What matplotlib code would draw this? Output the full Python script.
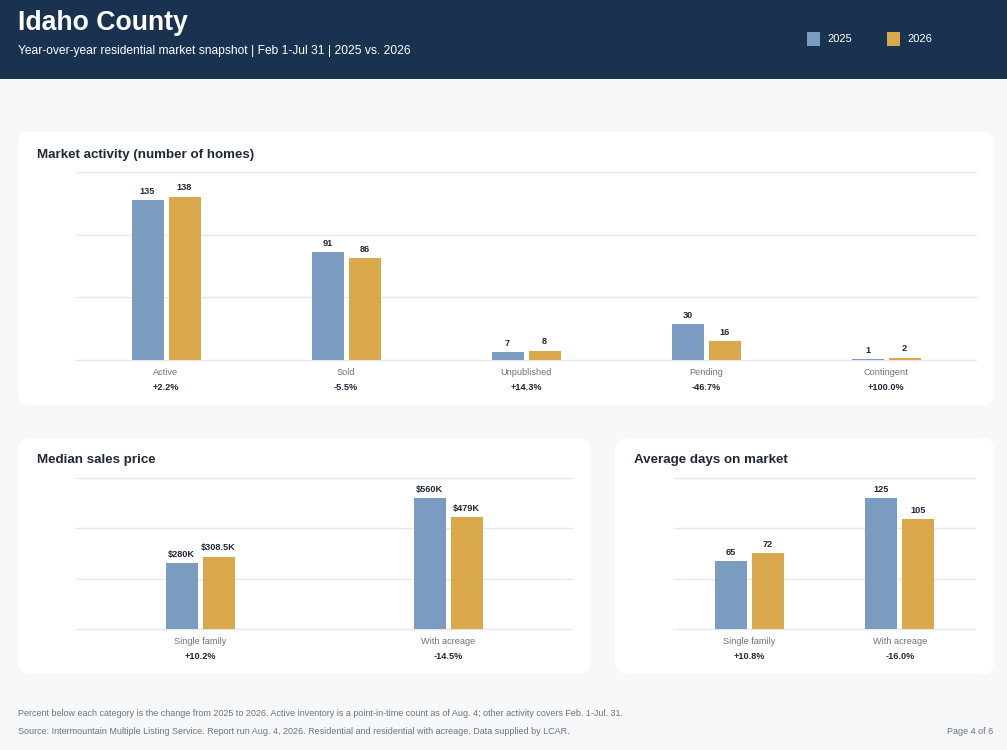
import numpy as np
import matplotlib
matplotlib.use("Agg")
import matplotlib.pyplot as plt
from matplotlib.patches import FancyBboxPatch, Rectangle

plt.rcParams['font.family'] = ['Liberation Sans', 'DejaVu Sans']

# Data
activity_cats = ['Active', 'Sold', 'Unpublished', 'Pending', 'Contingent']
activity_2025 = [135, 91, 7, 30, 1]
activity_2026 = [138, 86, 8, 16, 2]

price_cats = ['Single family', 'With acreage']
price_2025 = [280, 560]      # $K
price_2026 = [308.5, 479]    # $K

dom_cats = ['Single family', 'With acreage']
dom_2025 = [65, 125]
dom_2026 = [72, 105]

BLUE = '#7a9cc1'
GOLD = '#d8a84a'
NAVY = '#19324f'
DARK = '#1f2937'
GRAY = '#6b7280'
GRID = '#e5e7eb'

W, H = 1007, 750
fig = plt.figure(figsize=(W / 100, H / 100), dpi=100)
fig.patch.set_facecolor('#f7f8fa')

# background axes in pixel coordinates
bg = fig.add_axes([0, 0, 1, 1])
bg.set_xlim(0, W)
bg.set_ylim(H, 0)
bg.axis('off')
bg.add_patch(Rectangle((0, 0), W, 79, color=NAVY, lw=0))
for (x0, y0, x1, y1) in [(18, 132, 994, 405), (18, 438, 591, 674), (615, 438, 994, 674)]:
    bg.add_patch(FancyBboxPatch((x0, y0), x1 - x0, y1 - y0,
                                boxstyle='round,pad=0,rounding_size=12',
                                fc='white', ec='none'))

bg.text(18, 23, 'Idaho County', color='white', fontsize=19.2, fontweight='bold', va='center')
bg.text(18, 51, 'Year-over-year residential market snapshot | Feb 1-Jul 31 | 2025 vs. 2026',
        color='white', fontsize=8.65, va='center')
bg.add_patch(Rectangle((807, 32), 13, 14, color=BLUE, lw=0))
bg.text(827, 39, '2025', color='white', fontsize=8, va='center')
bg.add_patch(Rectangle((887, 32), 13, 14, color=GOLD, lw=0))
bg.text(907, 39, '2026', color='white', fontsize=8, va='center')

bg.text(37, 155, 'Market activity (number of homes)', color=DARK, fontsize=9.6, fontweight='bold', va='center')
bg.text(37, 460, 'Median sales price', color=DARK, fontsize=9.6, fontweight='bold', va='center')
bg.text(634, 460, 'Average days on market', color=DARK, fontsize=9.6, fontweight='bold', va='center')

bg.text(18, 713, 'Percent below each category is the change from 2025 to 2026. Active inventory is a '
        'point-in-time count as of Aug. 4; other activity covers Feb. 1-Jul. 31.',
        color=GRAY, fontsize=6.45, va='center')
bg.text(18, 731, 'Source: Intermountain Multiple Listing Service. Report run Aug. 4, 2026. '
        'Residential and residential with acreage. Data supplied by LCAR.',
        color=GRAY, fontsize=6.45, va='center')
bg.text(993, 731, 'Page 4 of 6', color=GRAY, fontsize=6.45, va='center', ha='right')


def px_axes(x0, y0, x1, y1):
    return fig.add_axes([x0 / W, 1 - y1 / H, (x1 - x0) / W, (y1 - y0) / H])


def bar_panel(box, cats, v25, v26, fmt):
    ax = px_axes(*box)
    ax.patch.set_alpha(0)
    n = len(cats)
    band = (box[2] - box[0]) / n
    bw = 32 / band
    off = 18.5 / band
    x = np.arange(n)
    top = max(max(v25), max(v26)) * 1.15
    ax.set_xlim(-0.5, n - 0.5)
    ax.set_ylim(0, top)
    for g in np.linspace(0, top, 4):
        ax.axhline(g, color=GRID, lw=1.0, zorder=0, clip_on=False)
    ax.bar(x - off, v25, bw, color=BLUE, zorder=2)
    ax.bar(x + off, v26, bw, color=GOLD, zorder=2)
    for i in range(n):
        for xo, v in ((x[i] - off, v25[i]), (x[i] + off, v26[i])):
            ax.annotate(fmt(v), (xo, v), xytext=(0, 3), textcoords='offset points',
                        ha='center', va='bottom', fontsize=6.6, fontweight='bold', color=DARK)
        pct = (v26[i] - v25[i]) / v25[i] * 100
        ax.annotate(cats[i], (x[i], 0), xytext=(0, -9), textcoords='offset points',
                    ha='center', va='center', fontsize=6.6, color=GRAY)
        ax.annotate(f'{pct:+.1f}%', (x[i], 0), xytext=(0, -19.5), textcoords='offset points',
                    ha='center', va='center', fontsize=6.6, fontweight='bold', color=DARK)
    ax.axis('off')
    return ax


def price_fmt(v):
    return f'${v:g}K'


bar_panel((76, 172, 976, 360), activity_cats, activity_2025, activity_2026, lambda v: f'{v}')
bar_panel((76, 478, 572, 629), price_cats, price_2025, price_2026, price_fmt)
bar_panel((674, 478, 975, 629), dom_cats, dom_2025, dom_2026, lambda v: f'{v}')

fig.savefig('out.png', dpi=100, facecolor=fig.get_facecolor())
